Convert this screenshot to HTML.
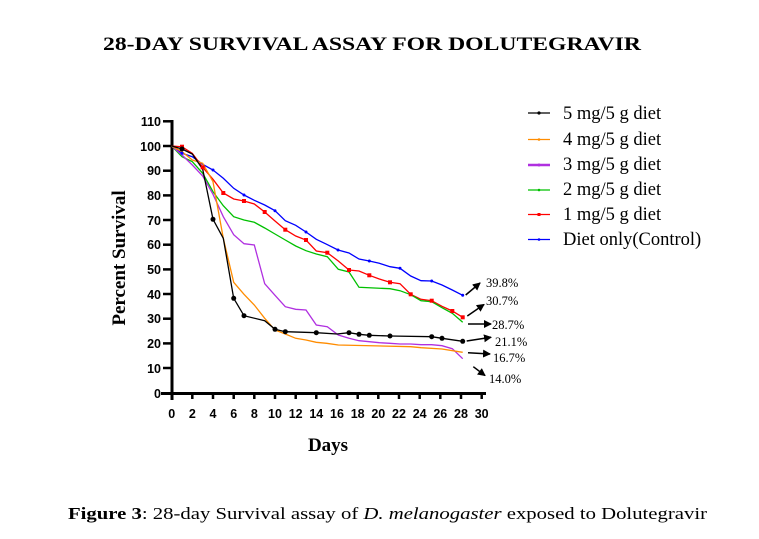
<!DOCTYPE html>
<html><head><meta charset="utf-8"><style>
html,body{margin:0;padding:0;background:#fff;}
svg{display:block}
.t{font-family:"Liberation Serif",serif}
.a{font-family:"Liberation Sans",sans-serif;font-weight:bold;font-size:12.5px}
</style></head><body>
<svg width="759" height="539" viewBox="0 0 759 539" xmlns="http://www.w3.org/2000/svg">
<text class="t" x="372" y="50" text-anchor="middle" font-size="18.5" font-weight="bold" textLength="538" lengthAdjust="spacingAndGlyphs">28-DAY SURVIVAL ASSAY FOR DOLUTEGRAVIR</text>
<text class="t" x="68" y="519" font-size="16.5" textLength="639" lengthAdjust="spacingAndGlyphs"><tspan font-weight="bold">Figure 3</tspan>: 28-day Survival assay of <tspan font-style="italic">D. melanogaster</tspan> exposed to Dolutegravir</text>
<g stroke="#000" stroke-width="3" fill="none">
<line x1="172" y1="120" x2="172" y2="400"/>
<line x1="161" y1="393.5" x2="486" y2="393.5"/>
</g>
<g stroke="#000" stroke-width="2.5">
<line x1="163" y1="121.3" x2="172" y2="121.3"/><line x1="163" y1="146" x2="172" y2="146"/><line x1="163" y1="170.7" x2="172" y2="170.7"/><line x1="163" y1="195.4" x2="172" y2="195.4"/><line x1="163" y1="220" x2="172" y2="220"/><line x1="163" y1="244.7" x2="172" y2="244.7"/><line x1="163" y1="269.4" x2="172" y2="269.4"/><line x1="163" y1="294" x2="172" y2="294"/><line x1="163" y1="318.7" x2="172" y2="318.7"/><line x1="163" y1="343.4" x2="172" y2="343.4"/><line x1="163" y1="368" x2="172" y2="368"/>
<line x1="192.3" y1="393" x2="192.3" y2="399"/><line x1="213" y1="393" x2="213" y2="399"/><line x1="233.7" y1="393" x2="233.7" y2="399"/><line x1="254.3" y1="393" x2="254.3" y2="399"/><line x1="275" y1="393" x2="275" y2="399"/><line x1="295.7" y1="393" x2="295.7" y2="399"/><line x1="316.3" y1="393" x2="316.3" y2="399"/><line x1="337" y1="393" x2="337" y2="399"/><line x1="357.7" y1="393" x2="357.7" y2="399"/><line x1="378.3" y1="393" x2="378.3" y2="399"/><line x1="399" y1="393" x2="399" y2="399"/><line x1="419.7" y1="393" x2="419.7" y2="399"/><line x1="440.3" y1="393" x2="440.3" y2="399"/><line x1="461" y1="393" x2="461" y2="399"/><line x1="481.7" y1="393" x2="481.7" y2="399"/>
</g>
<g class="a" text-anchor="end">
<text x="161" y="126">110</text><text x="161" y="151">100</text><text x="161" y="175">90</text><text x="161" y="200">80</text><text x="161" y="225">70</text><text x="161" y="249">60</text><text x="161" y="274">50</text><text x="161" y="299">40</text><text x="161" y="323">30</text><text x="161" y="348">20</text><text x="161" y="373">10</text><text x="161" y="398">0</text>
</g>
<g class="a" text-anchor="middle">
<text x="171.7" y="418">0</text><text x="192.3" y="418">2</text><text x="213" y="418">4</text><text x="233.7" y="418">6</text><text x="254.3" y="418">8</text><text x="275" y="418">10</text><text x="295.7" y="418">12</text><text x="316.3" y="418">14</text><text x="337" y="418">16</text><text x="357.7" y="418">18</text><text x="378.3" y="418">20</text><text x="399" y="418">22</text><text x="419.7" y="418">24</text><text x="440.3" y="418">26</text><text x="461" y="418">28</text><text x="481.7" y="418">30</text>
</g>
<text class="t" x="328" y="451" text-anchor="middle" font-size="19" font-weight="bold">Days</text>
<text class="t" transform="translate(125,258) rotate(-90)" text-anchor="middle" font-size="19" font-weight="bold">Percent Survival</text>

<g fill="none" stroke-width="1.3">
<polyline stroke="#0000ff" points="171.7,146 182,153.3 192.3,156.7 202.7,164.3 213,170 223.3,178.3 233.7,188.3 244,195 254.3,200.3 264.7,205 275,210.7 285.3,220.7 295.7,225.3 306,232 316.3,239.3 326.7,244.3 338,250 349,253 359,259 369.3,261 379.3,263.3 390,266.7 400,268.3 410.7,276 421,280.7 431.7,281 442,285 452.3,290 462.7,295.3"/>
<polyline stroke="#ff0000" points="171.7,146 182,146.7 192.3,153.3 202.7,167.3 213,179.3 223.3,193 233.7,199 244,201 254.3,204 264.7,212 275,221 285.3,229.7 295.7,236 306,240 316.3,251 327.3,252.7 338.3,261 349,270 359,271 369.3,275.3 379.3,279 390,282.3 400,283.7 410.7,294.3 421,299.3 431.7,300.7 442,306.3 452.3,311 462.7,317.3"/>
<polyline stroke="#00c000" points="171.7,146 182,156.7 192.3,161.7 202.7,173.3 213,191.7 223.3,205.7 233.7,216.7 244,220 254.3,222.3 264.7,228 275,234 285.3,240 295.7,246 306,250.7 316.3,254 327.3,256.7 338.3,269.3 349,272 359,287.3 390,288.7 400,290.7 410.7,294.7 421,300.7 431.7,301.7 442,307.7 452.3,313.3 462.7,322.3"/>
<polyline stroke="#b030e0" points="171.7,146 182,155 192.3,165 202.7,176 213,194.3 223.3,216.7 233.7,234.7 244,243.7 254.3,245 264.7,283.7 275,295.3 285.3,306.7 295.7,309.3 306,310 316.3,325 327.3,326.7 338.3,335 349,338.3 359,340.7 369.3,341.7 379.3,342.7 390,343.3 400,344 410.7,344 421,344.7 431.7,344.7 442,345.7 452.3,348.7 462.7,358.7"/>
<polyline stroke="#ff8c00" points="171.7,146 182,151.7 192.3,160 202.7,163.3 213,181.7 223.3,238.3 233.7,282.3 244,294.3 254.3,305 264.7,318.3 275,330 285.3,334 295.7,338.3 306,340 316.3,342.3 326.7,343.3 338.3,345 410.7,346.7 421,347.7 442,349 462.7,352.3"/>
<polyline stroke="#000" points="171.7,146 182,149 192.3,154 202.7,169.3 213,219.3 223.3,238.3 233.7,298.3 244,315.7 264.7,320.7 275,329.3 285.3,331.7 316.3,332.7 337,334 349,332.7 359,334.3 369.3,335.3 390,336 431.7,336.7 442,338.3 462.7,341.3"/>
</g>
<g fill="#0000ff"><circle cx="182" cy="153.3" r="1.5"/><circle cx="213" cy="170" r="1.5"/><circle cx="244" cy="195" r="1.5"/><circle cx="275" cy="210.7" r="1.5"/><circle cx="306" cy="232" r="1.5"/><circle cx="338" cy="250" r="1.5"/><circle cx="369.3" cy="261" r="1.5"/><circle cx="400" cy="268.3" r="1.5"/><circle cx="431.7" cy="281" r="1.5"/><circle cx="462.7" cy="295.3" r="1.5"/></g>
<g fill="#ff0000"><rect x="180" y="144.7" width="4" height="4"/><rect x="200.7" y="165.3" width="4" height="4"/><rect x="221.3" y="191" width="4" height="4"/><rect x="242" y="199" width="4" height="4"/><rect x="262.7" y="210" width="4" height="4"/><rect x="283.3" y="227.7" width="4" height="4"/><rect x="304" y="238" width="4" height="4"/><rect x="325.3" y="250.7" width="4" height="4"/><rect x="347" y="268" width="4" height="4"/><rect x="367.3" y="273.3" width="4" height="4"/><rect x="388" y="280.3" width="4" height="4"/><rect x="408.7" y="292.3" width="4" height="4"/><rect x="429.7" y="298.7" width="4" height="4"/><rect x="450.3" y="309" width="4" height="4"/><rect x="460.7" y="315.3" width="4" height="4"/></g>
<g fill="#000"><circle cx="213" cy="219.3" r="2.5"/><circle cx="233.7" cy="298.3" r="2.5"/><circle cx="244" cy="315.7" r="2.5"/><circle cx="275" cy="329.3" r="2.5"/><circle cx="285.3" cy="331.7" r="2.5"/><circle cx="316.3" cy="332.7" r="2.5"/><circle cx="349" cy="332.7" r="2.5"/><circle cx="359" cy="334.3" r="2.5"/><circle cx="369.3" cy="335.3" r="2.5"/><circle cx="390" cy="336" r="2.5"/><circle cx="431.7" cy="336.7" r="2.5"/><circle cx="442" cy="338.3" r="2.5"/><circle cx="462.7" cy="341.3" r="2.5"/><circle cx="182" cy="149" r="2.5"/></g>

<defs><marker id="ar" markerWidth="8" markerHeight="8" refX="7" refY="4" orient="auto" markerUnits="userSpaceOnUse"><path d="M0,0 L8,4 L0,8 Z" fill="#000"/></marker></defs>
<g stroke="#000" stroke-width="1.5" marker-end="url(#ar)">
<line x1="465.7" y1="295" x2="480" y2="283"/>
<line x1="467.3" y1="316" x2="484" y2="304.5"/>
<line x1="468" y1="324" x2="491" y2="324"/>
<line x1="466.7" y1="341" x2="491" y2="337.3"/>
<line x1="468" y1="352.7" x2="490" y2="354"/>
<line x1="473.3" y1="366.7" x2="485" y2="375.5"/>
</g>
<g class="t" font-size="12.5">
<text x="486" y="287">39.8%</text>
<text x="486" y="305">30.7%</text>
<text x="492" y="329">28.7%</text>
<text x="495" y="346">21.1%</text>
<text x="493" y="362">16.7%</text>
<text x="489" y="383">14.0%</text>
</g>

<g stroke-width="1.3">
<line x1="528" y1="113" x2="550" y2="113" stroke="#000"/><circle cx="539" cy="113" r="1.6" fill="#000"/>
<line x1="528" y1="139.5" x2="550" y2="139.5" stroke="#ff8c00"/><circle cx="539" cy="139.5" r="1.3" fill="#ff8c00"/>
<line x1="528" y1="165" x2="550" y2="165" stroke="#b030e0" stroke-width="2.5"/><circle cx="539" cy="165" r="1.5" fill="#b030e0"/>
<line x1="528" y1="190" x2="550" y2="190" stroke="#00c000"/><circle cx="539" cy="190" r="1.3" fill="#00c000"/>
<line x1="528" y1="214.5" x2="550" y2="214.5" stroke="#ff0000"/><rect x="537.5" y="213" width="3" height="3" fill="#ff0000"/>
<line x1="528" y1="239.5" x2="550" y2="239.5" stroke="#0000ff"/><circle cx="539" cy="239.5" r="1.3" fill="#0000ff"/>
</g>
<g class="t" font-size="18.5">
<text x="563" y="119">5 mg/5 g diet</text>
<text x="563" y="145">4 mg/5 g diet</text>
<text x="563" y="170">3 mg/5 g diet</text>
<text x="563" y="195">2 mg/5 g diet</text>
<text x="563" y="220">1 mg/5 g diet</text>
<text x="563" y="245">Diet only(Control)</text>
</g>
</svg>
</body></html>
